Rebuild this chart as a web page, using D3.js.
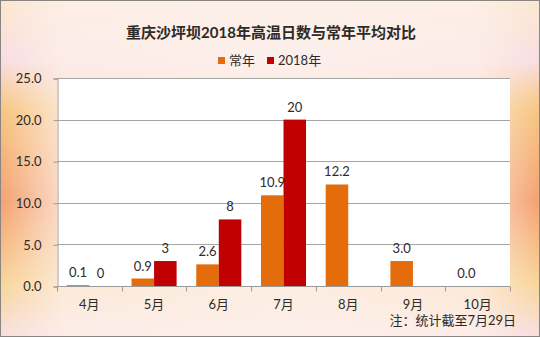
<!DOCTYPE html>
<html>
<head>
<meta charset="utf-8">
<script src="https://cdn.jsdelivr.net/npm/d3@7"></script>
<style>
  html, body { margin: 0; padding: 0; background: #fff; }
  svg { display: block; }
  text { font-family: "Lato", "Noto Sans CJK SC", sans-serif; fill: #2e2a26; }
</style>
</head>
<body>
<script>
// High-temperature days in Shapingba, Chongqing: 2018 vs long-term average
const months = ["4月", "5月", "6月", "7月", "8月", "9月", "10月"];
const normalDays = [0.1, 0.9, 2.6, 10.9, 12.2, 3.0, 0.0];
const days2018 = [0, 3, 8, 20, null, null, null];
const seriesNames = ["常年", "2018年"];
const seriesColors = ["#E46C0A", "#C00000"];
const yTicks = [0, 5, 10, 15, 20, 25];

const W = 540, H = 337;
const plot = { left: 57, right: 510, top: 78, bottom: 286 };

const svg = d3.select("body").append("svg")
  .attr("width", W).attr("height", H);

const defs = svg.append("defs");

// Vertical colour band for the frame background
const vg = defs.append("linearGradient").attr("id", "bgV")
  .attr("x1", 0).attr("y1", 0).attr("x2", 0).attr("y2", 1);
[[0, "#fbe8cf"], [0.18, "#f9dde2"], [0.32, "#f7c680"], [0.6, "#f4a070"],
 [0.84, "#f8d597"], [1, "#f8dfe2"]].forEach(([o, c]) =>
  vg.append("stop").attr("offset", o).attr("stop-color", c));

// Pale wash that lightens the frame toward its horizontal centre
const hg = defs.append("linearGradient").attr("id", "bgH")
  .attr("x1", 0).attr("y1", 0).attr("x2", 1).attr("y2", 0);
[[0, 0], [0.12, 0.75], [0.5, 0.88], [0.88, 0.75], [1, 0]].forEach(([o, a]) =>
  hg.append("stop").attr("offset", o).attr("stop-color", "#fdf1ec").attr("stop-opacity", a));

svg.append("rect").attr("x", 0).attr("y", 0).attr("width", W).attr("height", H)
  .attr("fill", "url(#bgV)");
svg.append("rect").attr("x", 0).attr("y", 0).attr("width", W).attr("height", H)
  .attr("fill", "url(#bgH)");
svg.append("rect").attr("x", 0.5).attr("y", 0.5).attr("width", W - 1).attr("height", H - 1)
  .attr("fill", "none").attr("stroke", "#8a8580").attr("stroke-width", 1);

// Plot area
svg.append("rect")
  .attr("x", plot.left).attr("y", plot.top)
  .attr("width", plot.right - plot.left).attr("height", plot.bottom - plot.top)
  .attr("fill", "#ffffff");

const x = d3.scaleBand().domain(months).range([plot.left, plot.right]).paddingInner(0).paddingOuter(0);
const x1 = d3.scaleBand().domain(seriesNames)
  .range([x.bandwidth() * 0.152, x.bandwidth() * 0.848]).padding(0);
const y = d3.scaleLinear().domain([0, 25]).range([plot.bottom, plot.top]);

// Horizontal gridlines
svg.append("g").selectAll("line").data(yTicks.filter(t => t > 0)).join("line")
  .attr("x1", plot.left).attr("x2", plot.right)
  .attr("y1", d => Math.round(y(d)) + 0.5).attr("y2", d => Math.round(y(d)) + 0.5)
  .attr("stroke", "#a6a6a6").attr("stroke-width", 1);

// Y axis
const yAxis = svg.append("g")
  .attr("transform", `translate(${plot.left + 0.5},0.5)`)
  .call(d3.axisLeft(y).tickValues(yTicks).tickFormat(d3.format(".1f")).tickSizeOuter(0).tickSize(4).tickPadding(12));
yAxis.select(".domain").attr("stroke", "#9a9a9a");
yAxis.selectAll(".tick line").attr("stroke", "#9a9a9a");
yAxis.selectAll(".tick text").attr("font-size", 13).attr("fill", "#3a2a1a")
  .style("font-family", "Lato, sans-serif");

// Bars
const rows = months.map((m, i) => ({ month: m, vals: [normalDays[i], days2018[i]] }));
const groups = svg.append("g").selectAll("g").data(rows).join("g")
  .attr("transform", d => `translate(${x(d.month)},0)`);

groups.selectAll("rect")
  .data(d => d.vals.map((v, k) => ({ k, v })).filter(e => e.v !== null))
  .join("rect")
  .attr("x", e => x1(seriesNames[e.k]))
  .attr("width", x1.bandwidth())
  .attr("y", e => y(e.v))
  .attr("height", e => y(0) - y(e.v))
  .attr("fill", e => seriesColors[e.k]);

// Value labels
groups.selectAll("text")
  .data(d => d.vals.map((v, k) => ({ k, v })).filter(e => e.v !== null))
  .join("text")
  .attr("x", e => x1(seriesNames[e.k]) + x1.bandwidth() / 2)
  .attr("y", e => y(e.v) - 8)
  .attr("text-anchor", "middle")
  .attr("font-size", 13)
  .text(e => e.k === 0 ? d3.format(".1f")(e.v) : d3.format("d")(e.v));

// X axis with boundary ticks
const xAxisG = svg.append("g").attr("transform", `translate(0,${plot.bottom + 0.5})`);
xAxisG.append("line").attr("x1", plot.left).attr("x2", plot.right)
  .attr("stroke", "#9a9a9a");
const bounds = months.map(m => x(m)).concat([plot.right]);
xAxisG.selectAll("line.tk").data(bounds).join("line").attr("class", "tk")
  .attr("x1", d => Math.round(d) + 0.5).attr("x2", d => Math.round(d) + 0.5)
  .attr("y1", 0).attr("y2", 5).attr("stroke", "#9a9a9a");
xAxisG.selectAll("text").data(months).join("text")
  .attr("x", d => x(d) + x.bandwidth() / 2)
  .attr("y", 22)
  .attr("text-anchor", "middle")
  .attr("font-size", 13)
  .text(d => d);

// Title
svg.append("text")
  .attr("x", 271).attr("y", 38)
  .attr("text-anchor", "middle")
  .attr("font-size", 15).attr("font-weight", "bold")
  .attr("fill", "#1e1a16")
  .text("重庆沙坪坝2018年高温日数与常年平均对比");

// Legend
const legend = svg.append("g");
const legendItems = [{ x: 218, name: seriesNames[0], c: seriesColors[0] },
                     { x: 267, name: seriesNames[1], c: seriesColors[1] }];
legend.selectAll("rect").data(legendItems).join("rect")
  .attr("x", d => d.x).attr("y", 57).attr("width", 7).attr("height", 7)
  .attr("fill", d => d.c);
legend.selectAll("text").data(legendItems).join("text")
  .attr("x", d => d.x + 11).attr("y", 65)
  .attr("font-size", 13)
  .text(d => d.name);

// Footnote
svg.append("text")
  .attr("x", 516).attr("y", 325)
  .attr("text-anchor", "end")
  .attr("font-size", 13)
  .text("注：统计截至7月29日");
</script>
</body>
</html>
